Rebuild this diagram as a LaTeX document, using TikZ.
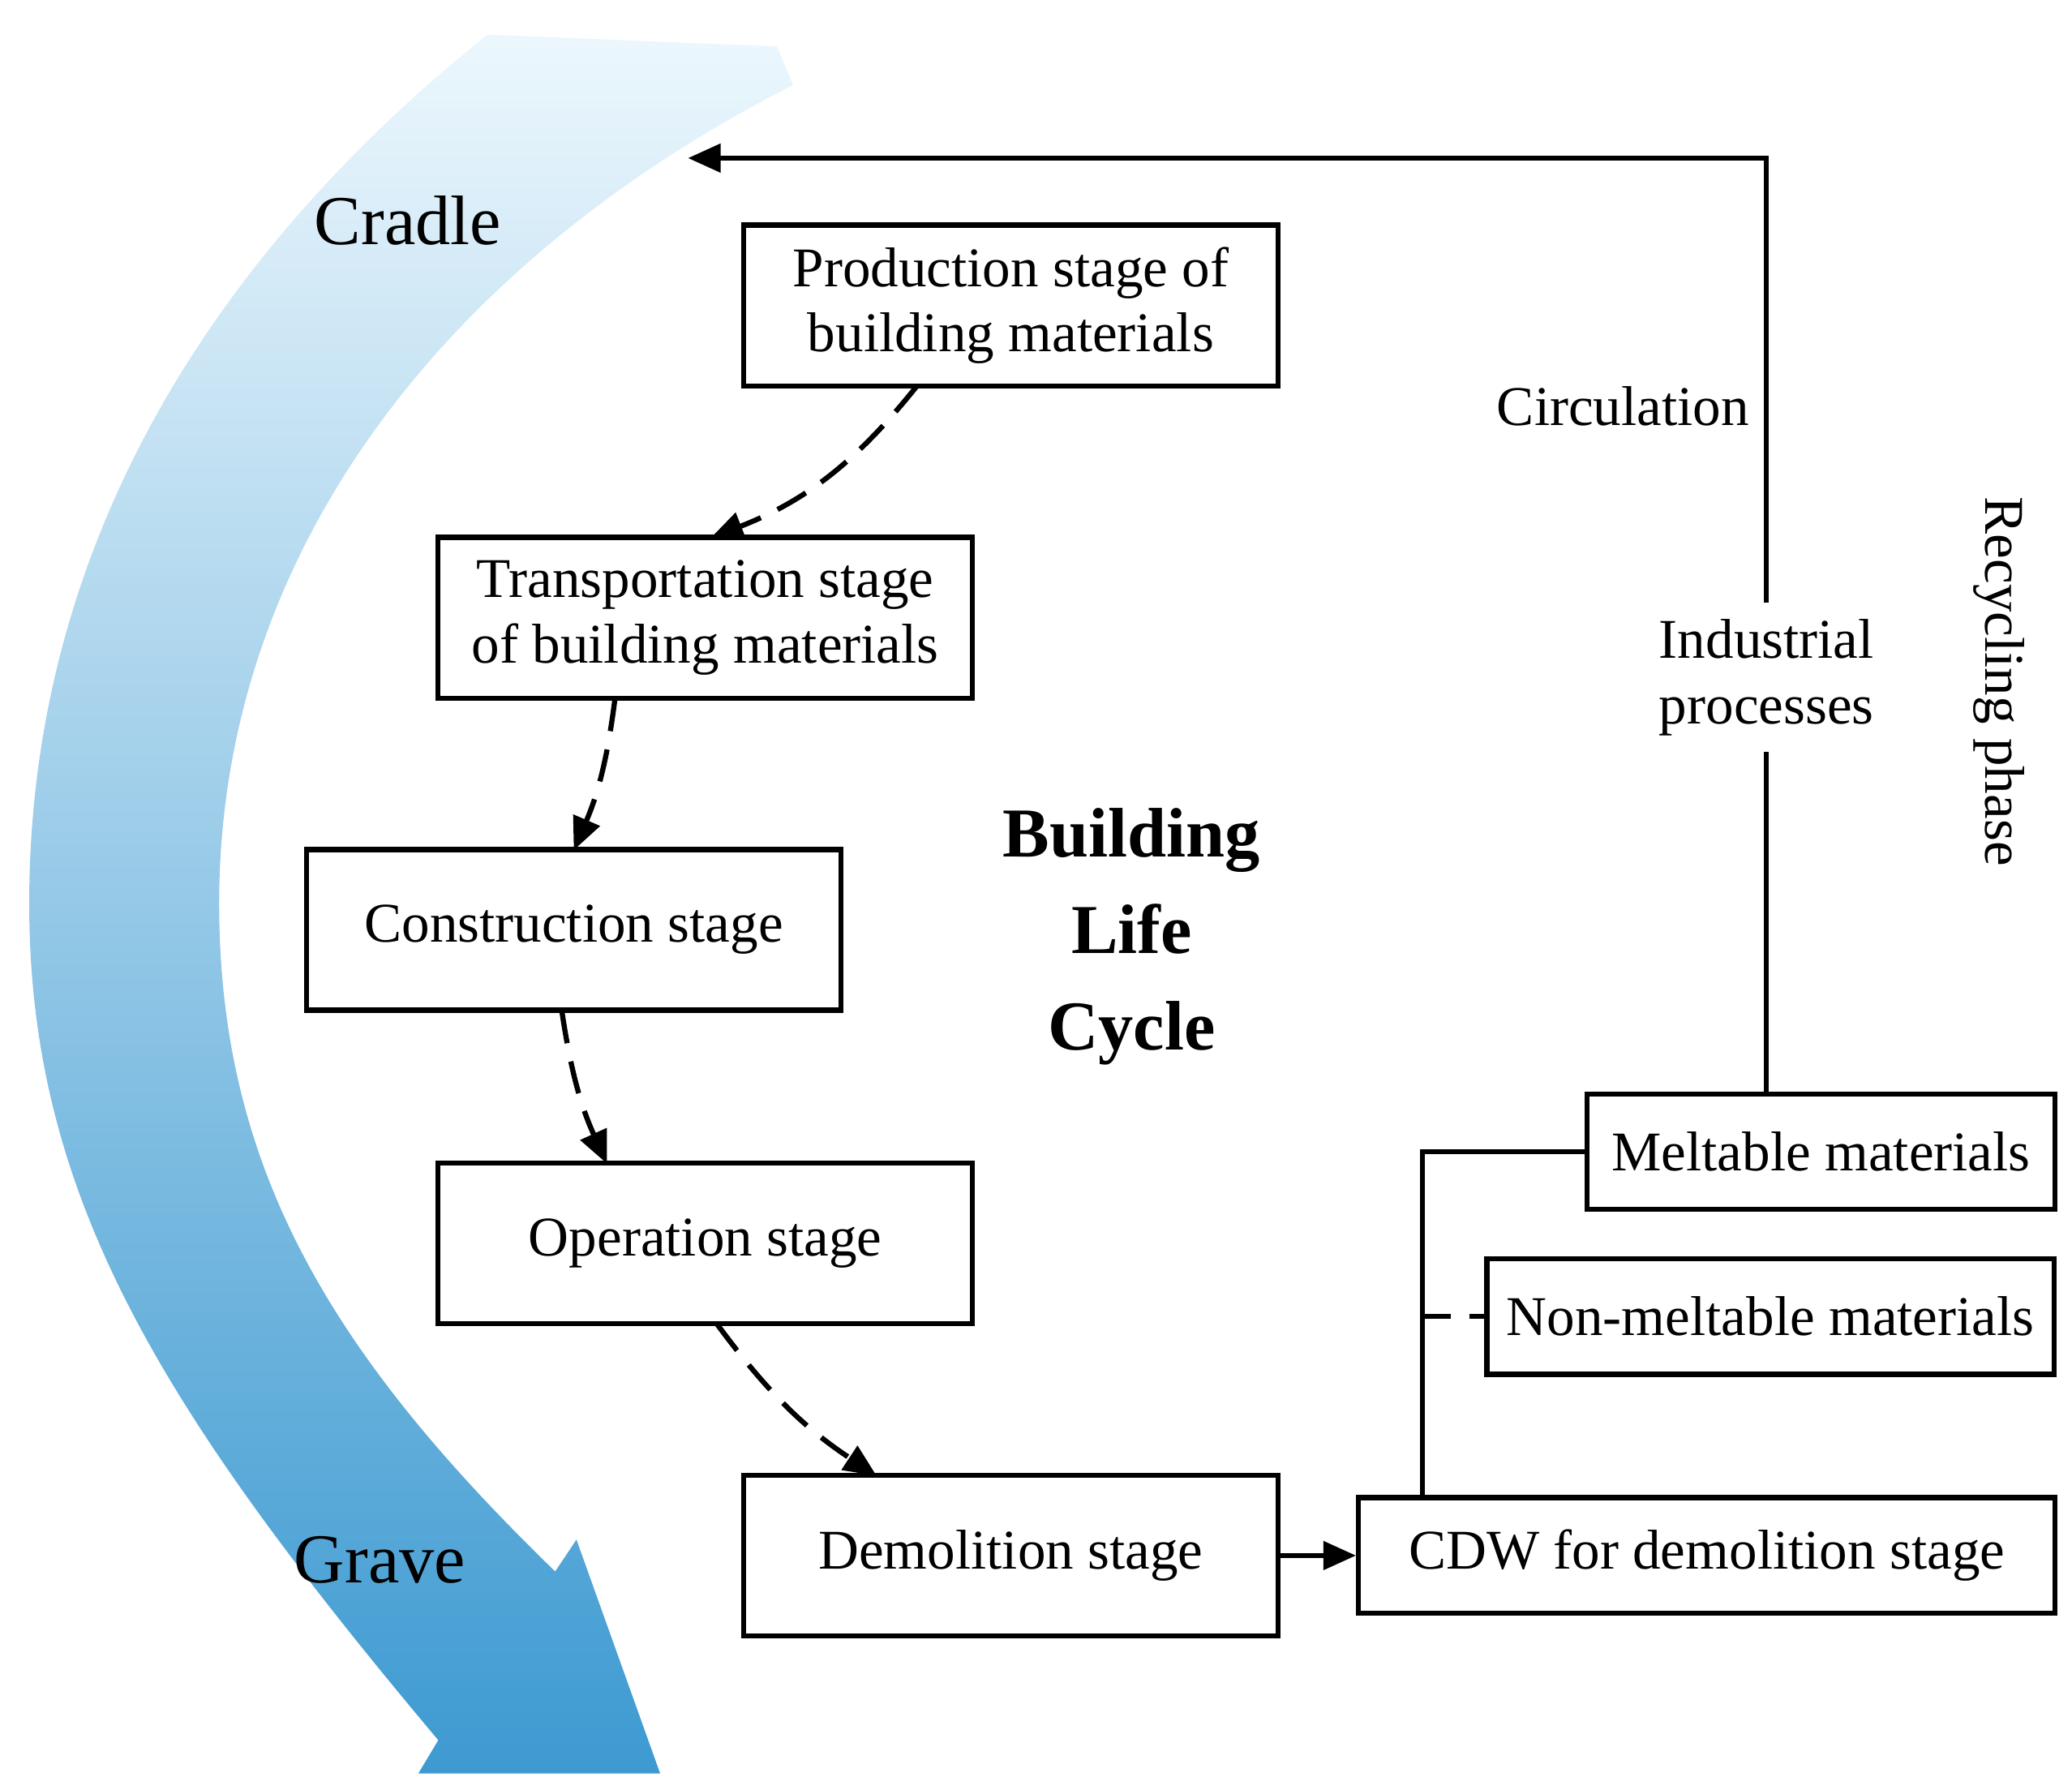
\documentclass[tikz,border=0pt]{standalone}
\usepackage{fontspec}
\setmainfont{Liberation Serif}
\usetikzlibrary{arrows.meta}
\definecolor{btop}{RGB}{236,247,253}
\definecolor{bbot}{RGB}{61,154,209}
\begin{document}
\begin{tikzpicture}[x=0.01cm,y=-0.01cm,
  box/.style={draw,line width=1.1pt,minimum width=4.02cm,minimum height=1.21cm,align=center,font=\fontsize{12}{14}\selectfont,inner sep=0pt},
  sbox/.style={draw,line width=1.1pt,minimum height=0.87cm,align=center,font=\fontsize{12}{14}\selectfont,inner sep=0pt},
  lab/.style={font=\fontsize{12}{14}\selectfont,align=center},
  dar/.style={line width=1.1pt,dash pattern=on 7pt off 4pt,-{Triangle[length=7pt,width=6pt]}},
  sar/.style={line width=1.1pt,-{Triangle[length=7pt,width=6pt]}}]
\useasboundingbox (0,0) rectangle (1560,1347);
% big arrow
\shade[top color=btop, bottom color=bbot]
 (367,26) .. controls (150,200) and (22,420) .. (22,680)
 .. controls (22,900) and (120,1060) .. (330,1310)
 -- (315,1335) -- (497,1335) -- (434,1159) -- (418,1183)
 .. controls (250,1020) and (165,880) .. (165,680)
 .. controls (165,420) and (330,200) .. (597,64)
 -- (585,35) -- cycle;
\node[lab,font=\fontsize{15}{17}\selectfont] (cr) at (307,166) {Cradle};
\node[lab,font=\fontsize{15}{17}\selectfont] (gr) at (286,1174) {Grave};
% boxes
\node[box] (p) at (761,230) {Production stage of\\building materials};
\node[box] (t) at (531,465) {Transportation stage\\of building materials};
\node[box] (c) at (432,700) {Construction stage};
\node[box] (o) at (531,936) {Operation stage};
\node[box] (d) at (761,1171) {Demolition stage};
\node[sbox,minimum width=5.24cm] (cdw) at (1285,1171) {CDW for demolition stage};
\node[sbox,minimum width=3.52cm] (m) at (1371,867) {Meltable materials};
\node[sbox,minimum width=4.27cm] (n) at (1333,991) {Non-meltable materials};
\node[lab,font=\bfseries\fontsize{15}{20.7}\selectfont] (blc) at (852,705) {Building\\Life\\Cycle};
\node[lab] (ip) at (1330,510) {Industrial\\processes};
\node[lab] (ci) at (1222,306) {Circulation};
\node[lab,rotate=-90] (rp) at (1505,513) {Recycling phase};
\coordinate (top) at (518,119);
\coordinate (j) at (1071,867);
% dashed flow
\draw[dar] (690,291) to[bend left=15] (535,405);
\draw[dar] (463,526) to[bend left=8] (432,640);
\draw[dar] (423,761) to[bend right=8] (457,876);
\draw[dar] (540,997) to[bend right=10] (660,1111);
\draw[sar] (d) -- (cdw);
\draw[line width=1.1pt] (cdw.north -| j) -- (j) -- (m.west);
\draw[line width=1.1pt,dash pattern=on 6pt off 4pt] (1071,991) -- (n.west);
\draw[line width=1.1pt] (m.north -| ip) -- (ip.south);
\draw[sar] (ip.north) -- (1330,119) -- (top);
\end{tikzpicture}
\end{document}
